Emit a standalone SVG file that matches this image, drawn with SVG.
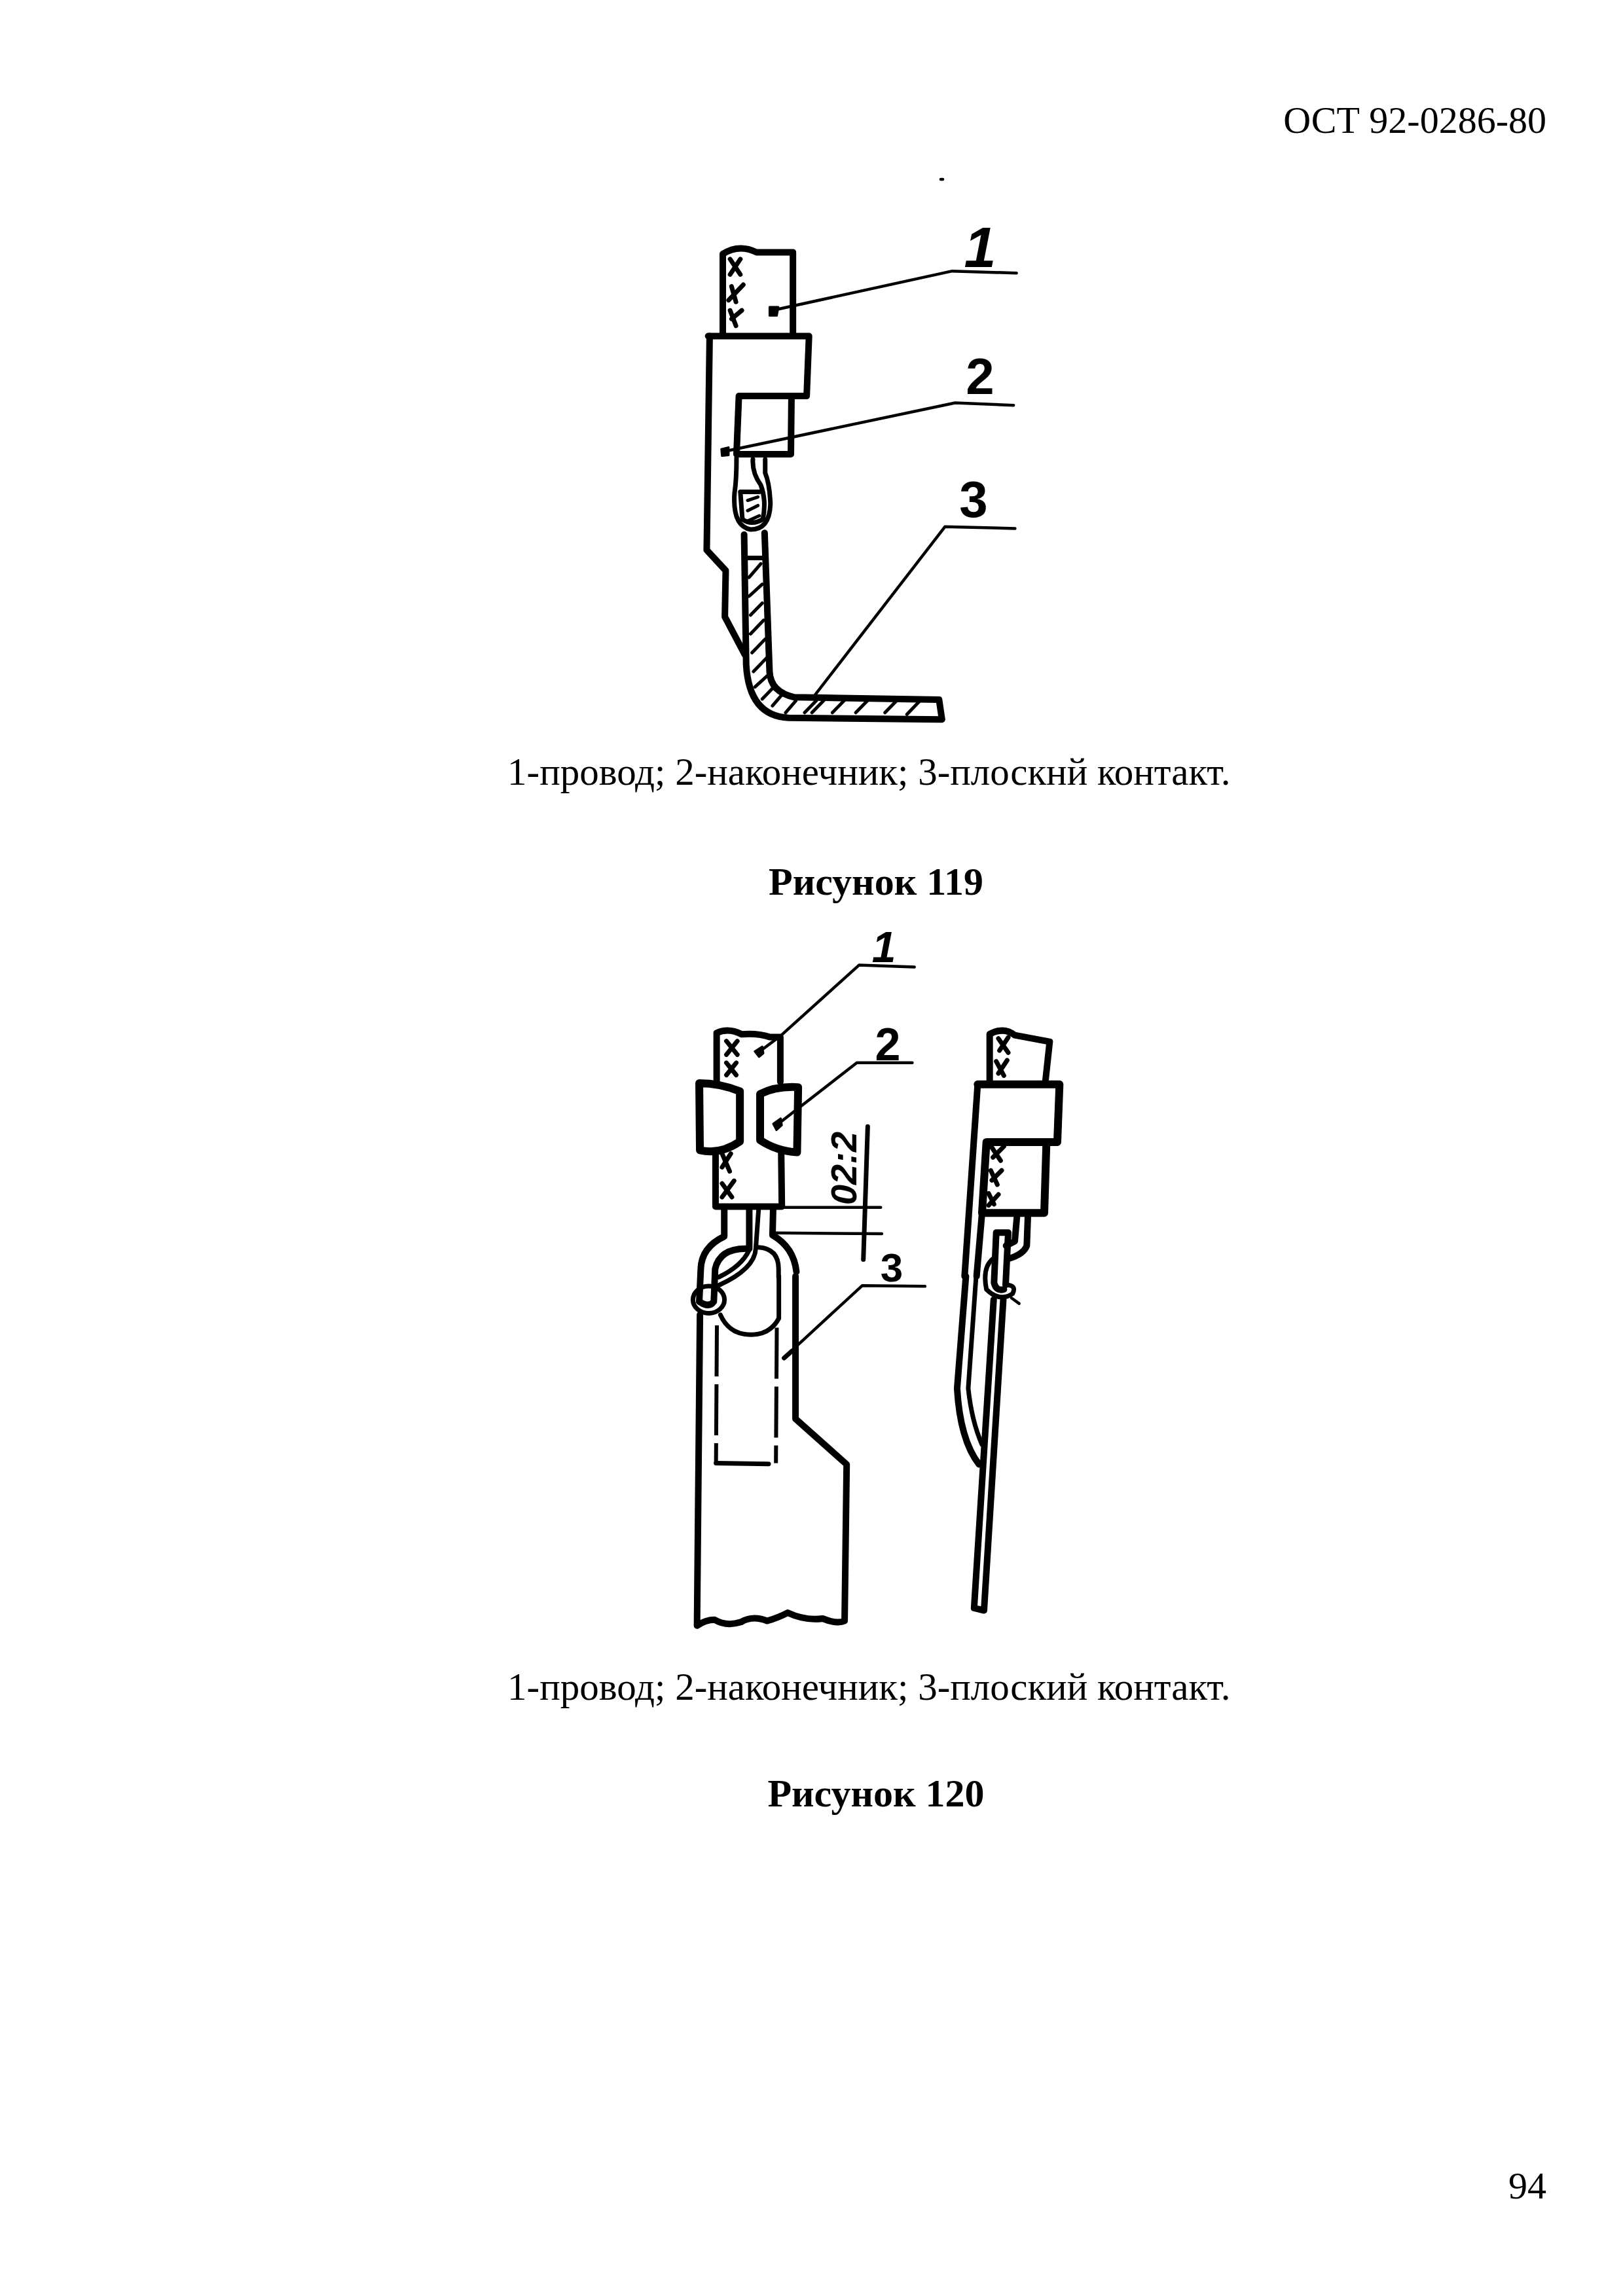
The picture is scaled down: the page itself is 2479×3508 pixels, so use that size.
<svg xmlns="http://www.w3.org/2000/svg" width="2479" height="3508" viewBox="0 0 2479 3508">
<style>
.t{font-family:"Liberation Serif","Noto Sans CJK SC",serif;font-size:59px;fill:#000}
.p{font-size:58px}
.b{font-weight:bold;text-anchor:middle;font-size:60px}
.n{font-family:"Liberation Sans",sans-serif;font-weight:bold;fill:#000;text-anchor:middle}
.i{font-style:italic}
path,ellipse{fill:none;stroke:#000;stroke-linecap:round;stroke-linejoin:round;vector-effect:non-scaling-stroke}
.m{stroke-width:10}
.w{stroke-width:12}
.s{stroke-width:7}
.l{stroke-width:4.5}
.h{stroke-width:5}
.d{stroke-width:6;stroke-dasharray:78 12;stroke-linecap:butt}
.x{stroke-width:7}
.f{fill:#000;stroke-width:3}
</style>
<rect width="2479" height="3508" fill="#fff"/>
<g id="page-text">
<text class="t p" x="2362" y="203" text-anchor="end">ОСТ 92-0286-80</text>
<text class="t" x="775" y="1199">1-провод; 2-наконечник; 3-плоскнй контакт.</text>
<text class="t b" x="1338" y="1367">Рисунок 119</text>
<text class="t" x="775" y="2597">1-провод; 2-наконечник; 3-плоский контакт.</text>
<text class="t b" x="1338" y="2760">Рисунок 120</text>
<text class="t p" x="2362" y="3359" text-anchor="end">94</text>
<path class="l" d="M1437 274h3"/>
</g>
<g id="figure-119" transform="translate(950 320) scale(.4464 .523)">
<path class="m" d="M345 360L345 130Q400 100 460 125L585 125L585 360"/>
<path class="x" d="M370 145L405 190M405 145L370 190M375 225L390 270M415 220L365 265M370 295L390 340M410 295L375 320"/>
<path class="m" d="M295 370L640 370L632 545L400 545L392 715L578 715L580 550"/>
<path class="m" d="M300 370L290 995L355 1055L352 1190L420 1300"/>
<path class="s" d="M392 725Q392 790 385 830Q378 925 440 935Q505 935 508 860Q505 800 490 770L490 730"/>
<path class="s" d="M448 730Q445 770 475 805Q495 850 482 905Q445 925 412 905L405 825L470 825"/>
<path class="h" d="M430 850L465 840M430 880L465 865M430 910L470 895"/>
<path class="m" d="M418 950L425 1330Q435 1480 570 1485L1095 1490L1085 1432L590 1425Q508 1410 505 1350L488 945"/>
<path class="s" d="M425 1018L485 1018"/>
<path class="h" d="M435 1075L475 1035M435 1130L480 1095M440 1185L480 1150M440 1240L485 1200M445 1295L490 1255M450 1350L495 1310M455 1395L500 1360M480 1430L520 1395M515 1450L550 1415M560 1470L595 1435M625 1470L665 1435M650 1470L690 1435M720 1470L760 1435M800 1470L840 1435M900 1470L940 1435M975 1475L1020 1435"/>
</g>
<g id="figure-120-front" transform="translate(1000 1400) scale(.332 .4145)">
<path class="m" d="M285 610L285 430Q340 410 400 435Q470 430 530 445L578 445L578 610"/>
<path class="x" d="M330 460L380 510M380 460L330 510M330 540L375 585M375 540L330 585M310 875L345 940M350 875L310 925M310 985L355 1035M365 975L310 1035"/>
<path class="w" d="M205 615L208 862Q300 880 392 830L392 645Q300 615 205 615Z"/>
<path class="w" d="M485 655Q560 625 660 630L655 870Q560 865 485 825Z"/>
<path class="m" d="M280 870L280 1070L585 1070L582 870"/>
<path class="m" d="M320 1080L320 1180Q215 1220 212 1300L205 1420"/>
<path class="m" d="M435 1080L435 1225Q300 1220 278 1300L272 1420Q250 1445 205 1420"/>
<path class="s" d="M478 1080L465 1225Q460 1300 295 1360M435 1230Q400 1290 295 1330"/>
<path class="m" d="M545 1080L542 1175Q640 1220 652 1310"/>
<path class="s" d="M478 1220Q570 1225 570 1300L570 1330"/>
</g>
<g id="figure-120-contact" transform="translate(1020 1950) scale(.4464 .357)">
<path class="m" d="M110 165L100 1495Q130 1470 160 1470Q200 1500 250 1480Q290 1450 340 1475Q380 1460 410 1440Q470 1475 530 1465Q580 1490 605 1475L612 805L437 610L437 0"/>
<path class="s" d="M180 165Q210 250 285 250Q350 250 380 180L380 0"/>
<path class="d" d="M168 210L165 800"/>
<path class="d" d="M373 220L370 800"/>
<path class="s" d="M165 800L345 803"/>
<ellipse class="s" cx="140" cy="100" rx="54" ry="58"/>
</g>
<g id="figure-120-side" transform="translate(1450 1550) scale(.3333)">
<path class="m" d="M185 300L185 90Q250 55 300 95L460 125L440 310"/>
<path class="x" d="M225 110L270 175M270 105L230 165M215 215L250 280M265 210L225 270M195 610L235 670M250 605L200 655M190 715L220 780M240 715L195 760M180 820L205 870M225 825L180 875"/>
<path class="w" d="M130 320L505 320L495 585L170 585L150 910L435 910L445 590"/>
<path class="m" d="M130 320L70 1200M150 910L125 1200"/>
<path class="m" d="M310 925L300 1040L260 1060M360 925L355 1060Q340 1100 270 1120"/>
<path class="m" d="M215 1000L270 1000L258 1240M215 1000L205 1230Q215 1270 250 1260"/>
<path class="s" d="M200 1120Q150 1160 170 1260Q230 1320 290 1280Q310 1240 260 1240"/>
<path class="l" d="M285 1300L320 1325"/>
</g>
<g id="figure-120-side-lower" transform="translate(1020 1950) scale(.4464 .357)">
<path class="m" d="M1020 0L990 480Q1000 700 1065 805"/>
<path class="s" d="M1055 0L1028 480Q1040 620 1075 720"/>
<path class="m" d="M1115 100L1048 1420L1082 1430L1148 100"/>
</g>
<g id="connectors">
<g transform="translate(950 320) scale(.4464 .523)">
<path class="l" d="M515 295L1130 180L1350 186"/>
<path class="l" d="M345 708L1140 565L1340 572"/>
<path class="l" d="M650 1430L1105 927L1345 932"/>
<path class="f" d="M505 285L535 285L530 310L505 310Z"/>
<path class="f" d="M340 700L365 695L365 718L342 720Z"/>
</g>
<g transform="translate(1000 1400) scale(.332 .4145)">
<path class="l" d="M480 500L580 440L940 180L1195 187"/>
<path class="l" d="M560 770L930 540L1185 540"/>
<path class="s" d="M980 775L960 1265"/>
<path class="l" d="M590 1073L1040 1073M555 1167L1045 1170"/>
<path class="f" d="M460 498L495 480L500 505L480 518Z"/>
<path class="f" d="M545 765L580 745L585 770L560 788Z"/>
</g>
<g transform="translate(1020 1950) scale(.4464 .357)">
<path class="l" d="M405 340L665 40L880 43"/>
<path class="s" d="M398 350L425 320"/>
</g>
</g>
<g id="labels">
<text class="n i" x="1497" y="408" font-size="88">1</text>
<text class="n" x="1497" y="602" font-size="78">2</text>
<text class="n" x="1487" y="790" font-size="78">3</text>
<text class="n i" x="1350" y="1470" font-size="66">1</text>
<text class="n" x="1356" y="1620" font-size="70">2</text>
<text class="n" x="1362" y="1958" font-size="62">3</text>
<text class="n i" font-size="56" transform="translate(1308 1785) rotate(-90)">02:2</text>
</g>
</svg>
